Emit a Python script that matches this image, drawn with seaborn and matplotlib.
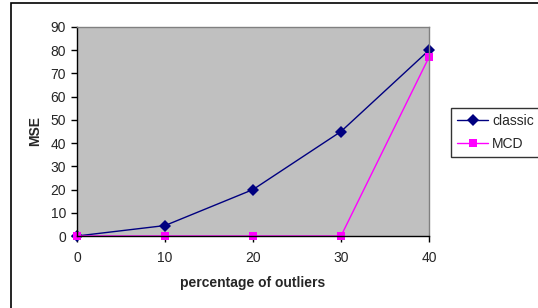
import numpy as np
import pandas as pd
import matplotlib
matplotlib.use("Agg")
import matplotlib.pyplot as plt
from matplotlib.patches import Rectangle
import seaborn as sns

# data
pct_outliers = [0, 10, 20, 30, 40]
mse_classic = [0, 4.5, 20, 45, 80]
mse_mcd = [0, 0, 0, 0, 77]

df = pd.DataFrame({
    'pct': pct_outliers * 2,
    'mse': mse_classic + mse_mcd,
    'method': ['classic'] * 5 + ['MCD'] * 5,
})

sns.set_style("ticks")
plt.rcParams['font.family'] = ['Liberation Sans', 'DejaVu Sans']

fig = plt.figure(figsize=(5.38, 3.08), dpi=100)
ax = fig.add_axes([77/538, 1 - 236/308, (429 - 77)/538, (236 - 27)/308])

# outer chart frame (runs off the right and bottom edge)
fig.patches.append(Rectangle((11/538, -0.1), 1.2, 1 - 3/308 + 0.1, transform=fig.transFigure,
                             fill=False, edgecolor='black', linewidth=1.2))

sns.lineplot(data=df, x='pct', y='mse', hue='method', style='method',
             palette={'classic': '#000080', 'MCD': '#FF00FF'},
             markers={'classic': 'D', 'MCD': 's'}, dashes=False,
             markersize=6, linewidth=1, markeredgewidth=0, ax=ax, clip_on=False)

ax.set_facecolor('#C0C0C0')
ax.set_xlim(0, 40)
ax.set_ylim(0, 90)
ax.set_xticks(pct_outliers)
ax.set_yticks(range(0, 91, 10))
ax.tick_params(labelsize=10, length=4, width=1, color='black', pad=4)
ax.tick_params(axis='x', pad=7)
for side in ['top', 'right']:
    ax.spines[side].set_color('#808080')
    ax.spines[side].set_linewidth(1)
for side in ['left', 'bottom']:
    ax.spines[side].set_color('black')
    ax.spines[side].set_linewidth(1)

ax.set_xlabel('percentage of outliers', fontsize=10, fontweight='bold', labelpad=8)
ax.set_ylabel('MSE', fontsize=10, fontweight='bold', labelpad=6)

handles, labels = ax.get_legend_handles_labels()
leg = ax.legend(handles, labels, loc='upper left', bbox_to_anchor=(451/538, 1 - 108/308),
                bbox_transform=fig.transFigure, frameon=True, fancybox=False,
                fontsize=10, handlelength=2.2, handletextpad=0.3, borderpad=0.45,
                labelspacing=0.6, borderaxespad=0)
leg.get_frame().set_edgecolor('black')
leg.get_frame().set_linewidth(1)

fig.savefig('out.png', dpi=100)
